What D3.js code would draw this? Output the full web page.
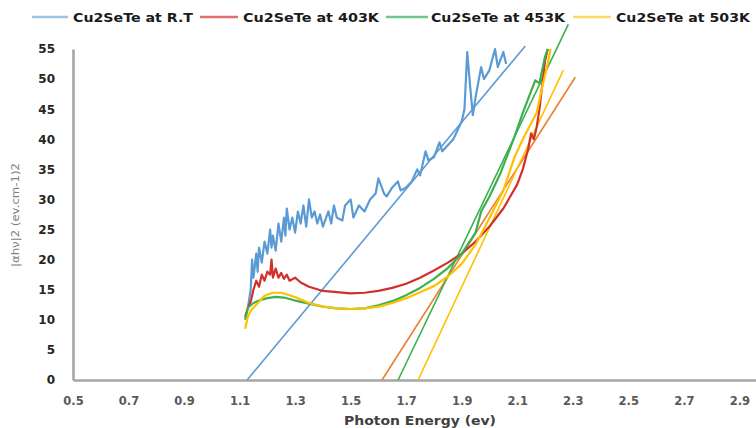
<!DOCTYPE html>
<html>
<head>
<meta charset="utf-8">
<script src="https://cdn.jsdelivr.net/npm/d3@7"></script>
<style>
  html, body { margin: 0; padding: 0; background: #fff; }
  svg { display: block; }
</style>
</head>
<body>
<svg id="chart" width="756" height="428"></svg>
<script>
// Tauc plot of Cu2SeTe at several temperatures: |αhν|² vs photon energy

const xTicks = [0.5, 0.7, 0.9, 1.1, 1.3, 1.5, 1.7, 1.9, 2.1, 2.3, 2.5, 2.7, 2.9];
const yTicks = [0, 5, 10, 15, 20, 25, 30, 35, 40, 45, 50, 55];

const seriesNames = ["Cu2SeTe at R.T", "Cu2SeTe at 403K", "Cu2SeTe at 453K", "Cu2SeTe at 503K"];

// [photon energy (eV), |αhν|²]
const rtValues = [
  [1.13,12],[1.14,15],[1.145,20],[1.15,17],[1.16,21],[1.165,18],[1.17,22],[1.18,19.5],
  [1.19,23],[1.2,21],[1.21,25],[1.215,22],[1.22,24],[1.23,21.5],[1.24,26],[1.25,23],
  [1.26,27],[1.265,24],[1.27,28.5],[1.28,25],[1.29,27],[1.3,24.5],[1.31,28],[1.32,26],
  [1.33,29],[1.34,25.5],[1.35,30],[1.36,27],[1.37,28],[1.38,26],[1.39,27.5],[1.4,25.5],
  [1.42,28],[1.43,26],[1.44,29],[1.45,27],[1.47,26.5],[1.48,29],[1.5,30],[1.51,27],
  [1.53,29],[1.55,28],[1.57,30],[1.59,31],[1.6,33.5],[1.62,31],[1.63,30.5],[1.65,32],
  [1.67,33],[1.68,31.5],[1.7,32],[1.72,33],[1.74,35],[1.75,34],[1.77,38],[1.78,36.5],
  [1.8,37],[1.82,39.5],[1.83,38],[1.85,39],[1.87,40],[1.89,42],[1.9,43],[1.91,45],
  [1.92,54.5],[1.93,49],[1.94,44],[1.95,47],[1.97,52],[1.98,50],[2.0,51.5],[2.02,55],
  [2.03,52],[2.05,54.5],[2.06,52.5]
];

const k403Values = [
  [1.12,10.5],[1.13,12],[1.14,13],[1.15,15],[1.16,16.5],[1.17,15.5],[1.18,17.5],[1.19,16.5],
  [1.2,18],[1.21,17.5],[1.215,20],[1.22,17],[1.23,18.5],[1.24,17],[1.25,17.8],[1.26,16.8],
  [1.27,17.5],[1.28,16.5],[1.3,17],[1.32,16.2],[1.35,15.5],[1.4,14.8],[1.45,14.6],[1.5,14.4],
  [1.55,14.5],[1.6,14.8],[1.65,15.3],[1.7,16],[1.75,17],[1.8,18.2],[1.85,19.5],[1.9,21],
  [1.95,23],[2.0,25.5],[2.05,28.5],[2.1,32.5],[2.12,35],[2.14,38.5],[2.15,41],[2.16,40],
  [2.17,42],[2.18,45],[2.19,49],[2.2,53],[2.21,55]
];

const k453Values = [
  [1.12,10],[1.13,12],[1.15,12.8],[1.17,13.2],[1.2,13.6],[1.23,13.8],[1.26,13.7],[1.3,13.2],
  [1.35,12.7],[1.4,12.2],[1.45,11.9],[1.5,11.8],[1.55,11.9],[1.6,12.4],[1.65,13.1],[1.7,14.1],
  [1.75,15.3],[1.8,16.8],[1.85,18.6],[1.9,21],[1.95,24.5],[1.97,28],[2.0,30.5],[2.04,34.4],
  [2.09,40.4],[2.12,44.4],[2.15,48],[2.165,49.8],[2.18,49.3],[2.2,53.7],[2.21,55]
];

const k503Values = [
  [1.12,8.5],[1.13,10.5],[1.14,11.5],[1.16,12.5],[1.19,14],[1.22,14.5],[1.25,14.5],[1.3,13.8],
  [1.35,12.8],[1.4,12.2],[1.45,11.9],[1.5,11.8],[1.55,11.9],[1.6,12.2],[1.65,12.8],[1.7,13.6],
  [1.75,14.6],[1.8,15.6],[1.85,17.2],[1.9,19.3],[1.95,22.5],[1.99,26],[2.05,31.5],[2.09,37],
  [2.12,40],[2.17,44.4],[2.19,48.7],[2.21,52.6],[2.22,55]
];

// Linear extrapolations to the energy axis (band-gap fits)
const rtFit   = [[1.127, 0], [2.129, 55.5]];
const k403Fit = [[1.613, 0], [2.309, 50.3]];
const k453Fit = [[1.671, 0], [2.284, 59.1]];
const k503Fit = [[1.743, 0], [2.266, 51.5]];

const seriesColors = ["#5B9BD5", "#D0312D", "#3DB04E", "#FFC000"];
const legendColors = ["#9DC3E6", "#E07070", "#6CC98A", "#FFD966"];
const fitColors    = ["#5B9BD5", "#ED7D31", "#3DB04E", "#FFC000"];

const svg = d3.select("#chart");

const x = d3.scaleLinear().domain([0.5, 2.96]).range([73, 756]);
const y = d3.scaleLinear().domain([0, 55]).range([380, 49]);

// Axes
const xAxis = svg.append("g")
  .attr("transform", `translate(0,${y(0)})`)
  .call(d3.axisBottom(x).tickValues(xTicks).tickSize(0).tickSizeOuter(0).tickPadding(17)
        .tickFormat(d3.format(".1f")));
xAxis.select(".domain").attr("stroke", "#A6A6A6").attr("stroke-width", 2.6);
xAxis.selectAll("text")
  .attr("font-family", "DejaVu Sans, sans-serif")
  .attr("font-weight", "bold")
  .attr("font-size", 11.5)
  .attr("fill", "#595959");

const yAxis = svg.append("g")
  .attr("transform", `translate(${x(0.5)},0)`)
  .call(d3.axisLeft(y).tickValues(yTicks).tickSize(0).tickSizeOuter(0).tickPadding(18));
yAxis.select(".domain").attr("stroke", "#A6A6A6").attr("stroke-width", 2.6);
yAxis.selectAll("text")
  .attr("font-family", "DejaVu Sans, sans-serif")
  .attr("font-weight", "bold")
  .attr("font-size", 12)
  .attr("fill", "#262626");

// Axis titles
svg.append("text")
  .attr("x", 420).attr("y", 425)
  .attr("text-anchor", "middle")
  .attr("textLength", 152)
  .attr("lengthAdjust", "spacingAndGlyphs")
  .attr("font-family", "DejaVu Sans, sans-serif")
  .attr("font-weight", "bold")
  .attr("font-size", 11.5)
  .attr("fill", "#404040")
  .text("Photon Energy (ev)");

svg.append("text")
  .attr("transform", "translate(19,215) rotate(-90)")
  .attr("text-anchor", "middle")
  .attr("textLength", 104)
  .attr("lengthAdjust", "spacingAndGlyphs")
  .attr("font-family", "DejaVu Sans, sans-serif")
  .attr("font-size", 10.5)
  .attr("fill", "#7F7F7F")
  .text("|αhν|2 (ev.cm-1)2");

const line = d3.line().x(d => x(d[0])).y(d => y(d[1]));

// Fit lines
[rtFit, k403Fit, k453Fit, k503Fit].forEach((f, i) => {
  svg.append("path")
    .datum(f)
    .attr("d", line)
    .attr("fill", "none")
    .attr("stroke", fitColors[i])
    .attr("stroke-width", 1.6);
});

// Measured curves
[rtValues, k403Values, k453Values, k503Values].forEach((s, i) => {
  svg.append("path")
    .datum(s)
    .attr("d", line)
    .attr("fill", "none")
    .attr("stroke", seriesColors[i])
    .attr("stroke-width", 2.2)
    .attr("stroke-linejoin", "round");
});

// Legend
const legendLine = [[32, 68], [200, 238], [386, 428], [573, 611]];
const legendText = [[73, 120], [243, 136], [431, 134], [616, 134]];
seriesNames.forEach((name, i) => {
  svg.append("line")
    .attr("x1", legendLine[i][0]).attr("x2", legendLine[i][1])
    .attr("y1", 17).attr("y2", 17)
    .attr("stroke", legendColors[i])
    .attr("stroke-width", 2.6);
  svg.append("text")
    .attr("x", legendText[i][0]).attr("y", 21.5)
    .attr("textLength", legendText[i][1])
    .attr("lengthAdjust", "spacingAndGlyphs")
    .attr("font-family", "DejaVu Sans, sans-serif")
    .attr("font-weight", "bold")
    .attr("font-size", 12.5)
    .attr("fill", "#1a1a1a")
    .text(name);
});
</script>
</body>
</html>
